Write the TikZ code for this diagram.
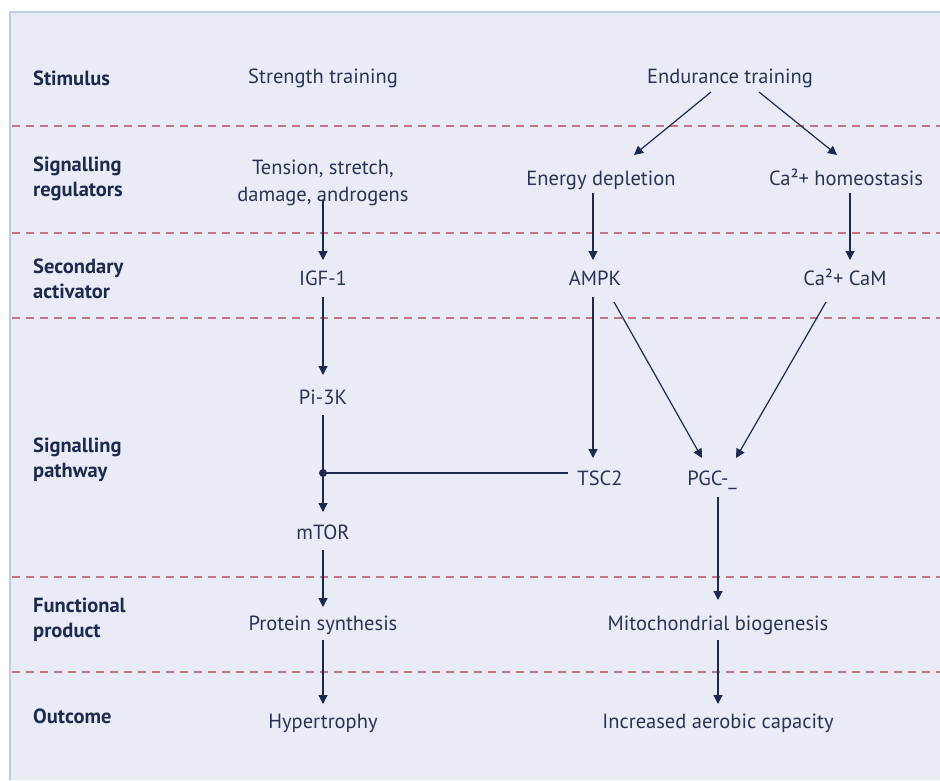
\documentclass[tikz,border=0pt]{standalone}
\usepackage{fontspec}
\setmainfont{PT Sans}
\usetikzlibrary{arrows.meta}
\definecolor{bg}{HTML}{E9ECF7}
\definecolor{edge}{HTML}{BCCBE8}
\definecolor{ink}{HTML}{1E2A4C}
\definecolor{inkl}{HTML}{2A3452}
\definecolor{dash}{HTML}{C27585}
\tikzset{
  x=1pt, y=-1pt,
  txt/.style={text=inkl, font=\fontsize{20.5}{24}\selectfont, inner sep=1pt, align=center, text height=15pt, text depth=4pt},
  txt2/.style={text=inkl, font=\fontsize{20.5}{27}\selectfont, inner sep=1pt, align=center},
  lbl/.style={text=ink, font=\bfseries\fontsize{20.5}{25}\selectfont, inner sep=0pt, anchor=west, align=left},
  sep/.style={draw=dash, line width=1.7pt, dash pattern=on 8pt off 6pt},
  arr/.style={draw=ink, line width=1.2pt, -{Triangle[length=9pt,width=9pt]}},
  ln/.style={draw=ink, line width=1.2pt}
}
\begin{document}
\begin{tikzpicture}
\useasboundingbox (0,0) rectangle (940,780);
\fill[white] (0,0) rectangle (940,780);
\fill[bg] (10,12) rectangle (940,780);
\draw[edge, line width=1.5pt] (10,780) -- (10,12) -- (940,12);
% separators
\foreach \yy in {126,233,318,577,672} \draw[sep] (12,\yy) -- (940,\yy);
% row labels
\node[lbl] (l1) at (33,78) {Stimulus};
\node[lbl] (l2) at (33,179) {Signalling\\regulators};
\node[lbl] (l3) at (33,279) {Secondary\\activator};
\node[lbl] (l4) at (33,460) {Signalling\\pathway};
\node[lbl] (l5) at (33,620) {Functional\\product};
\node[lbl] (l6) at (33,716) {Outcome};
% nodes
\node[txt] (st) at (323,78) {Strength training};
\node[txt] (et) at (730,78) {Endurance training};
\node[txt2] (tn) at (323,183) {Tension, stretch,\\damage, androgens};
\node[txt] (ed) at (601,180) {Energy depletion};
\node[txt] (ch) at (846,180) {Ca²+ homeostasis};
\node[txt] (igf) at (323,280) {IGF-1};
\node[txt] (ampk) at (595,280) {AMPK};
\node[txt] (cam) at (845,280) {Ca²+ CaM};
\node[txt] (pi) at (323,399) {Pi-3K};
\node[txt] (tsc) at (600,480) {TSC2};
\node[txt] (pgc) at (712,480) {PGC-\_};
\node[txt] (mtor) at (323,534) {mTOR};
\node[txt] (ps) at (323,625) {Protein synthesis};
\node[txt] (mb) at (718,625) {Mitochondrial biogenesis};
\node[txt] (hy) at (323,723) {Hypertrophy};
\node[txt] (ia) at (718,723) {Increased aerobic capacity};
\coordinate (dot) at (323,473);
% connectors
\draw[arr] (711,92) -- (634,155);
\draw[arr] (759,92) -- (837,155);
\draw[arr] (323,200) -- (323,260);
\draw[arr] (593,193) -- (593,260);
\draw[arr] (850,193) -- (850,260);
\draw[arr] (323,297) -- (323,375);
\draw[arr] (593,297) -- (593,458);
\draw[arr] (614,302) -- (702,458);
\draw[arr] (826,302) -- (736,458);
\draw[arr] (323,415) -- (323,512);
\draw[ln] (568,473) -- (dot);
\fill[ink] (dot) circle (4pt);
\draw[arr] (718,497) -- (718,600);
\draw[arr] (323,550) -- (323,607);
\draw[arr] (323,640) -- (323,704);
\draw[arr] (718,640) -- (718,704);
\end{tikzpicture}
\end{document}
